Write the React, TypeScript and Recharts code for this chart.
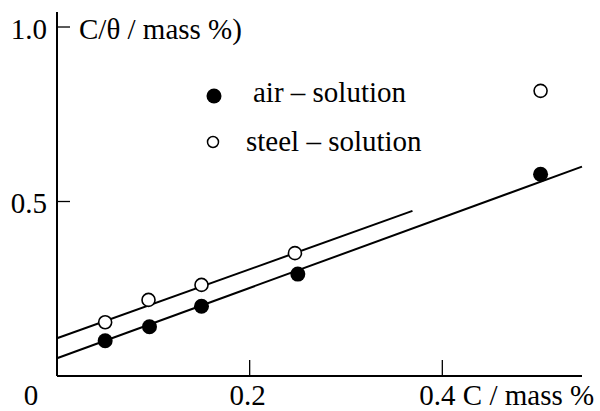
import {
  ComposedChart,
  Line,
  Scatter,
  XAxis,
  YAxis,
  Legend,
} from 'recharts';

const FONT = '"Liberation Serif", "Times New Roman", serif';
const SIZE = 29;

// points
const airX = [0.05, 0.096, 0.15, 0.25, 0.502];
const airY = [0.101, 0.141, 0.2, 0.292, 0.578];
const steelX = [0.05, 0.095, 0.15, 0.247, 0.502];
const steelY = [0.154, 0.218, 0.261, 0.352, 0.817];

// fitted straight lines (end points)
const airFitX = [0, 0.545];
const airFitY = [0.051, 0.6];
const steelFitX = [0, 0.369];
const steelFitY = [0.108, 0.473];

const xTicks = [0, 0.2, 0.4];
const yTicks = [0.5, 1.0];

const toPoints = (xs: number[], ys: number[]) => xs.map((x, i) => ({ x, y: ys[i] }));

const airData = toPoints(airX, airY);
const steelData = toPoints(steelX, steelY);
const airFit = toPoints(airFitX, airFitY);
const steelFit = toPoints(steelFitX, steelFitY);

const Txt = ({ x, y, anchor = 'start', children }: any) => (
  <text x={x} y={y} textAnchor={anchor} fontFamily={FONT} fontSize={SIZE} fill="#000">
    {children}
  </text>
);

const FilledDot = (props: any) => <circle cx={props.cx} cy={props.cy} r={7.5} fill="#000" />;
const OpenDot = (props: any) => (
  <circle cx={props.cx} cy={props.cy} r={6.5} fill="#fff" stroke="#000" strokeWidth={1.6} />
);

const XTick = (props: any) => {
  const { x, y, payload } = props;
  const v = payload.value;
  if (v === 0) {
    return (
      <Txt x={x - 26} y={y + 29} anchor="middle">
        0
      </Txt>
    );
  }
  return (
    <g>
      <line x1={x} x2={x} y1={y} y2={y - 16} stroke="#000" strokeWidth={1.3} />
      {v === 0.4 ? (
        <Txt x={x - 23} y={y + 29}>
          0.4 C / mass %
        </Txt>
      ) : (
        <Txt x={x - 2} y={y + 29} anchor="middle">
          {v.toFixed(1)}
        </Txt>
      )}
    </g>
  );
};

const YTick = (props: any) => {
  const { x, y, payload } = props;
  return (
    <g>
      <line x1={x} x2={x + 13} y1={y} y2={y} stroke="#000" strokeWidth={1.3} />
      <Txt x={x - 10} y={y + 11.5} anchor="end">
        {payload.value.toFixed(1)}
      </Txt>
    </g>
  );
};

const YTitle = (props: any) => {
  const { viewBox } = props;
  return (
    <Txt x={viewBox.x + viewBox.width + 22} y={viewBox.y + 27}>
      C/θ / mass %)
    </Txt>
  );
};

const LegendBox = () => (
  <svg width={240} height={80} style={{ display: 'block', overflow: 'visible' }}>
    <circle cx={19} cy={16} r={7.5} fill="#000" />
    <Txt x={58} y={22}>
      air – solution
    </Txt>
    <circle cx={18} cy={62} r={5.5} fill="#fff" stroke="#000" strokeWidth={1.5} />
    <Txt x={51} y={71}>
      steel – solution
    </Txt>
  </svg>
);

export default function App() {
  return (
    <div style={{ position: 'absolute', left: 0, top: 0, width: 600, height: 411, background: '#fff' }}>
      <ComposedChart width={600} height={411} margin={{ top: 12, right: 18, bottom: 34, left: 56 }}>
        <XAxis
          type="number"
          dataKey="x"
          domain={[0, 0.545]}
          ticks={xTicks}
          interval={0}
          height={1}
          tickSize={0}
          tickMargin={0}
          tickLine={false}
          tick={<XTick />}
          axisLine={{ stroke: '#000', strokeWidth: 2 }}
        />
        <YAxis
          type="number"
          dataKey="y"
          domain={[0, 1.043]}
          ticks={yTicks}
          interval={0}
          width={1}
          tickSize={0}
          tickMargin={0}
          tickLine={false}
          tick={<YTick />}
          axisLine={{ stroke: '#000', strokeWidth: 2 }}
          label={<YTitle />}
        />
        <Legend
          layout="vertical"
          align="center"
          verticalAlign="middle"
          wrapperStyle={{ left: 195, top: 80, width: 240, height: 80 }}
          content={<LegendBox />}
        />
        <Line
          data={airFit}
          dataKey="y"
          type="linear"
          stroke="#000"
          strokeWidth={2}
          dot={false}
          legendType="none"
          isAnimationActive={false}
        />
        <Line
          data={steelFit}
          dataKey="y"
          type="linear"
          stroke="#000"
          strokeWidth={2}
          dot={false}
          legendType="none"
          isAnimationActive={false}
        />
        <Scatter name="air – solution" data={airData} dataKey="y" shape={FilledDot} isAnimationActive={false} />
        <Scatter name="steel – solution" data={steelData} dataKey="y" shape={OpenDot} isAnimationActive={false} />
      </ComposedChart>
    </div>
  );
}
